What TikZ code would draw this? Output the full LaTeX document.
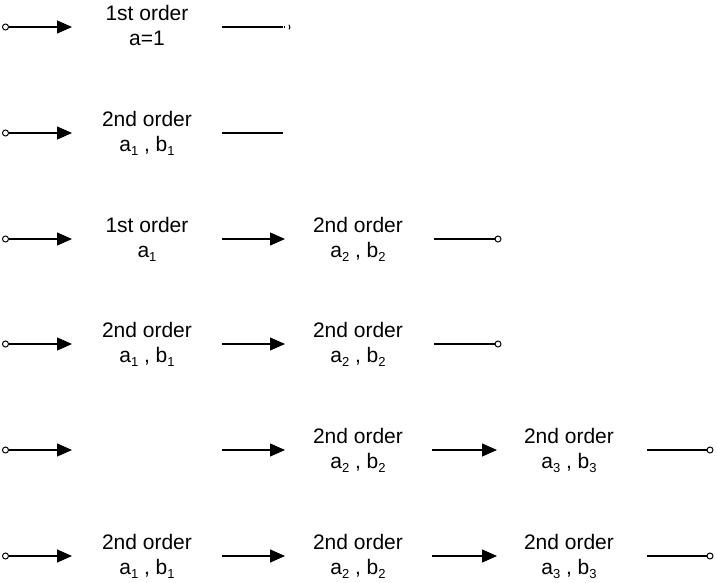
\documentclass[tikz,border=0pt]{standalone}
\usepackage{fontspec}
\setmainfont{Liberation Sans}
\usetikzlibrary{arrows.meta}
\newcommand\sbs[1]{\raisebox{-4.5pt}{\fontsize{13}{13}\selectfont #1}}
\begin{document}
\begin{tikzpicture}[x=1pt,y=-1pt,
  blk/.style={anchor=north,inner sep=0pt,align=center,font=\fontsize{21}{25}\selectfont},
  term/.style={circle,draw,fill=white,minimum size=6pt,inner sep=0pt,line width=1pt},
  wire/.style={line width=1.2pt},
  arr/.style={wire,-{Triangle[length=15pt,width=13pt]}}]
\useasboundingbox (0,0) rectangle (717,583);

% ---------- row 1 ----------
\node[term] (t1) at (5.5,27) {};
\coordinate (t1e) at (72,27);
\draw[arr] (t1) -- (t1e);
\node[blk] (r1b1) at (147,5) {1st order\\a=1};
\coordinate (r1os) at (222,27);
\coordinate (r1oe) at (283,27);
\draw[wire] (r1os) -- (r1oe);
\draw[line width=1pt] (287,27) ++(160:3) arc (160:200:3);
\draw[line width=1pt] (287,27) ++(-50:3) arc (-50:50:3);

% ---------- row 2 ----------
\node[term] (t2) at (5.5,133) {};
\coordinate (t2e) at (72,133);
\draw[arr] (t2) -- (t2e);
\node[blk] (r2b1) at (147,111) {2nd order\\a\sbs{1} , b\sbs{1}};
\coordinate (r2os) at (222,133);
\coordinate (r2oe) at (283,133);
\draw[wire] (r2os) -- (r2oe);

% ---------- row 3 ----------
\node[term] (t3) at (5.5,239) {};
\coordinate (t3e) at (72,239);
\draw[arr] (t3) -- (t3e);
\node[blk] (r3b1) at (147,217) {1st order\\a\sbs{1}};
\coordinate (r3a2s) at (222,239);
\coordinate (r3a2e) at (285,239);
\draw[arr] (r3a2s) -- (r3a2e);
\node[blk] (r3b2) at (358,217) {2nd order\\a\sbs{2} , b\sbs{2}};
\coordinate (r3os) at (434,239);
\node[term] (r3o) at (498,239) {};
\draw[wire] (r3os) -- (r3o);

% ---------- row 4 ----------
\node[term] (t4) at (5.5,344) {};
\coordinate (t4e) at (72,344);
\draw[arr] (t4) -- (t4e);
\node[blk] (r4b1) at (147,322) {2nd order\\a\sbs{1} , b\sbs{1}};
\coordinate (r4a2s) at (222,344);
\coordinate (r4a2e) at (285,344);
\draw[arr] (r4a2s) -- (r4a2e);
\node[blk] (r4b2) at (358,322) {2nd order\\a\sbs{2} , b\sbs{2}};
\coordinate (r4os) at (434,344);
\node[term] (r4o) at (498,344) {};
\draw[wire] (r4os) -- (r4o);

% ---------- row 5 ----------
\node[term] (t5) at (5.5,450) {};
\coordinate (t5e) at (72,450);
\draw[arr] (t5) -- (t5e);
\coordinate (r5a2s) at (222,450);
\coordinate (r5a2e) at (285,450);
\draw[arr] (r5a2s) -- (r5a2e);
\node[blk] (r5b2) at (358,428) {2nd order\\a\sbs{2} , b\sbs{2}};
\coordinate (r5a3s) at (432,450);
\coordinate (r5a3e) at (497,450);
\draw[arr] (r5a3s) -- (r5a3e);
\node[blk] (r5b3) at (569,428) {2nd order\\a\sbs{3} , b\sbs{3}};
\coordinate (r5os) at (647,450);
\node[term] (r5o) at (710,450) {};
\draw[wire] (r5os) -- (r5o);

% ---------- row 6 ----------
\node[term] (t6) at (5.5,556) {};
\coordinate (t6e) at (72,556);
\draw[arr] (t6) -- (t6e);
\node[blk] (r6b1) at (147,534) {2nd order\\a\sbs{1} , b\sbs{1}};
\coordinate (r6a2s) at (222,556);
\coordinate (r6a2e) at (285,556);
\draw[arr] (r6a2s) -- (r6a2e);
\node[blk] (r6b2) at (358,534) {2nd order\\a\sbs{2} , b\sbs{2}};
\coordinate (r6a3s) at (432,556);
\coordinate (r6a3e) at (497,556);
\draw[arr] (r6a3s) -- (r6a3e);
\node[blk] (r6b3) at (569,534) {2nd order\\a\sbs{3} , b\sbs{3}};
\coordinate (r6os) at (647,556);
\node[term] (r6o) at (710,556) {};
\draw[wire] (r6os) -- (r6o);
\end{tikzpicture}
\end{document}
